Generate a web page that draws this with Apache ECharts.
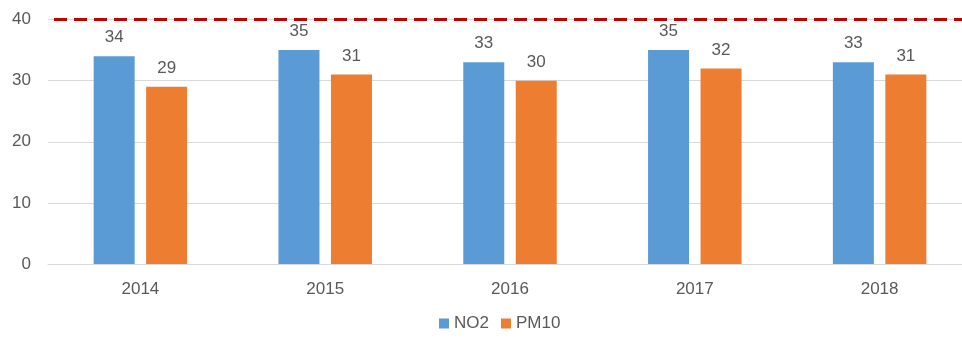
<!DOCTYPE html>
<html>
<head>
<meta charset="utf-8">
<script src="https://cdn.jsdelivr.net/npm/echarts@6/dist/echarts.min.js"></script>
<style>
  html, body { margin: 0; padding: 0; background: #fff; overflow: hidden; }
  #chart { width: 980px; height: 340px; }
</style>
</head>
<body>
<div id="chart"></div>
<script>
// Annual mean concentrations
const years = ['2014', '2015', '2016', '2017', '2018'];
const no2 = [34, 35, 33, 35, 33];
const pm10 = [29, 31, 30, 32, 31];
const limitValue = 40;
const yTicks = { min: 0, max: 40, interval: 10 };

const textColor = '#595959';
const font = '"Liberation Sans", "Open Sans", sans-serif';

const chart = echarts.init(document.getElementById('chart'), null, { renderer: 'canvas' });

const labelStyle = {
  show: true,
  position: 'top',
  distance: 10,
  color: textColor,
  fontSize: 17,
  fontFamily: font
};

chart.setOption({
  animation: false,
  textStyle: { fontFamily: font },
  grid: { left: 48, top: 19.5, width: 924, height: 244.5, containLabel: false },
  legend: {
    bottom: 3,
    left: 434,
    itemWidth: 10,
    itemHeight: 10,
    itemGap: 12,
    icon: 'rect',
    textStyle: { color: textColor, fontSize: 17, fontFamily: font },
    data: ['NO2', 'PM10']
  },
  xAxis: {
    type: 'category',
    data: years,
    axisTick: { show: false },
    axisLine: { lineStyle: { color: '#D9D9D9', width: 1 } },
    axisLabel: { color: textColor, fontSize: 17, margin: 17, fontFamily: font }
  },
  yAxis: {
    type: 'value',
    min: yTicks.min,
    max: yTicks.max,
    interval: yTicks.interval,
    axisLine: { show: false },
    axisTick: { show: false },
    axisLabel: { color: textColor, fontSize: 17, margin: 17, fontFamily: font },
    splitLine: { lineStyle: { color: '#D9D9D9', width: 1 } }
  },
  series: [
    {
      name: 'NO2',
      type: 'bar',
      data: no2,
      barWidth: 41,
      barGap: '28%',
      itemStyle: { color: '#5B9BD5' },
      label: labelStyle,
      markLine: {
        silent: true,
        symbol: 'none',
        label: { show: false },
        lineStyle: { color: '#C00000', width: 3, type: [13, 7], dashOffset: -6 },
        data: [{ yAxis: limitValue }]
      }
    },
    {
      name: 'PM10',
      type: 'bar',
      data: pm10,
      barWidth: 41,
      itemStyle: { color: '#ED7D31' },
      label: labelStyle
    }
  ]
});
</script>
</body>
</html>
